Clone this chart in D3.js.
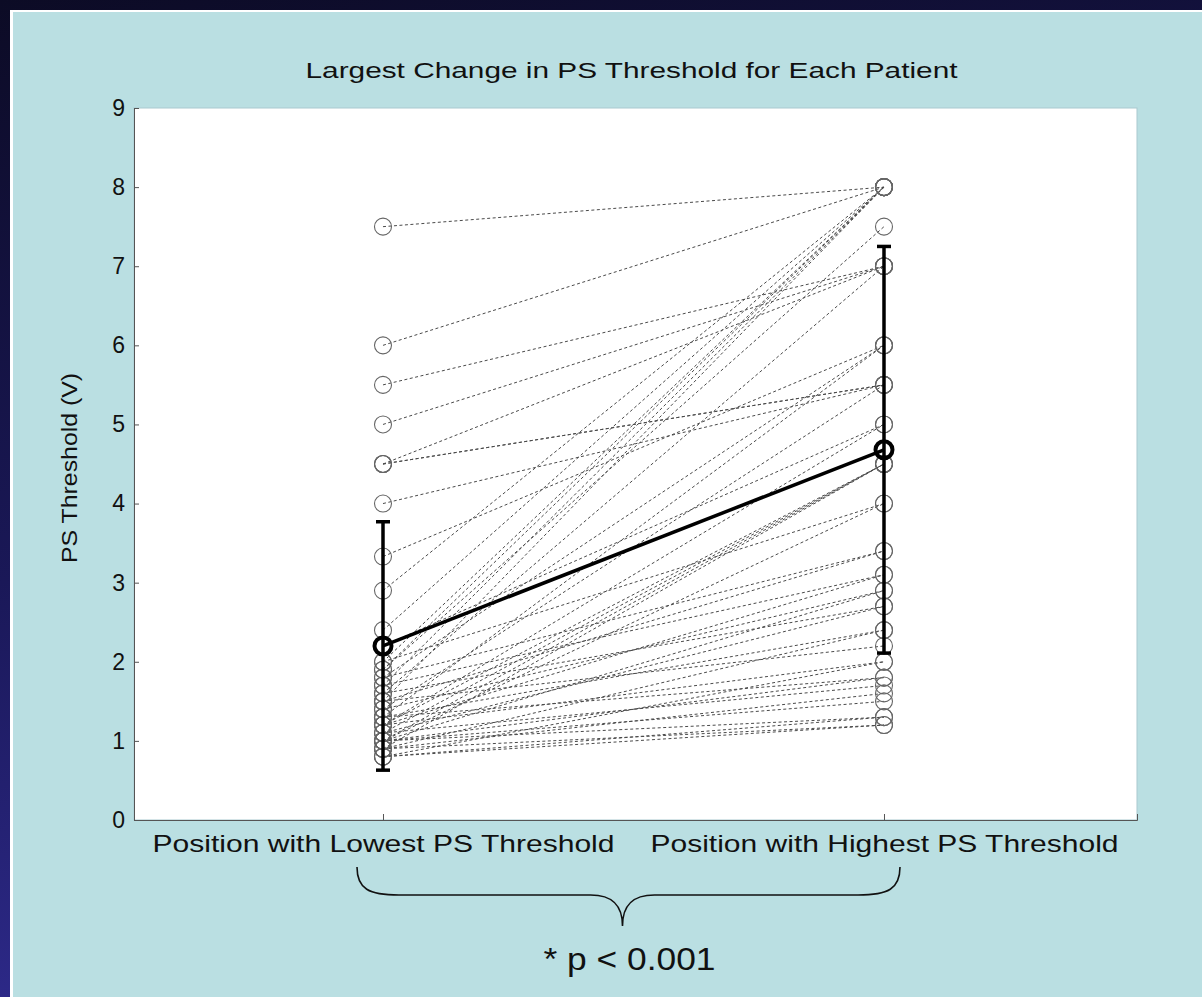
<!DOCTYPE html>
<html>
<head>
<meta charset="utf-8">
<script src="https://cdn.jsdelivr.net/npm/d3@7"></script>
<style>
  body { margin: 0; background: #0d0d2a; }
  svg { display: block; }
</style>
</head>
<body>
<script>
// categories on the x axis
var categories = ["Position with Lowest PS Threshold", "Position with Highest PS Threshold"];

// each patient: threshold at lowest position, threshold at highest position
var lowValues = [7.5, 6.0, 5.5, 5.0, 4.5, 4.5, 4.5, 4.0, 3.33, 2.9, 2.4, 2.2, 2.0, 1.9, 1.9, 1.8, 1.7,
  1.6, 1.5, 1.4, 1.3, 1.2, 1.2, 1.1, 1.0, 1.0, 0.9, 2.0, 1.8, 1.5, 1.7, 1.2, 1.4, 1.0, 1.6, 1.1,
  1.3, 0.9, 1.5, 1.2, 0.8, 1.3, 1.0, 1.1, 0.9, 1.0, 0.8, 1.0, 0.9, 0.8];
var highValues = [8.0, 8.0, 7.0, 7.0, 7.0, 5.5, 5.5, 5.5, 6.0, 8.0, 8.0, 5.0, 8.0, 7.5, 8.0, 6.0, 8.0,
  7.0, 8.0, 5.5, 6.0, 4.5, 5.0, 4.5, 4.5, 4.0, 4.5, 4.0, 3.4, 3.4, 3.1, 3.1, 2.9, 2.9, 2.7, 2.7,
  2.4, 2.4, 2.2, 2.0, 2.0, 1.8, 1.8, 1.7, 1.6, 1.5, 1.3, 1.3, 1.2, 1.2];

// group mean and standard deviation
var means = [2.2, 4.68];
var sds = [1.57, 2.57];

var yTicks = [0, 1, 2, 3, 4, 5, 6, 7, 8, 9];

var W = 1202, H = 997;
var margin = { top: 108, right: 65, bottom: 177, left: 134 };
var width = W - margin.left - margin.right,
  height = H - margin.top - margin.bottom;

var font = 'Liberation Sans, Arial, sans-serif';

var svg = d3.select('body').
append('svg').
attr('width', W).
attr('height', H);

// dark slide background
var defs = svg.append('defs');
var grad = defs.append('linearGradient').
attr('id', 'bg').
attr('x1', 0).attr('y1', 0).attr('x2', 0.25).attr('y2', 1);
grad.append('stop').attr('offset', '0%').attr('stop-color', '#0c0b25');
grad.append('stop').attr('offset', '55%').attr('stop-color', '#1a1858');
grad.append('stop').attr('offset', '100%').attr('stop-color', '#2f2b8e');

svg.append('rect').attr('width', W).attr('height', H).attr('fill', 'url(#bg)');
svg.append('rect').attr('x', 10).attr('y', 10).attr('width', W - 10).attr('height', H - 10).attr('fill', '#ffffff');
svg.append('rect').attr('x', 13).attr('y', 12).attr('width', W - 13).attr('height', H - 12).attr('fill', '#badfe2');

var g = svg.append('g').
attr('transform', 'translate(' + margin.left + ',' + margin.top + ')');

var x = d3.scaleLinear().domain([0.503, 2.505]).range([0, width]);
var y = d3.scaleLinear().domain([0, 9]).range([height, 0]);

// plot area
g.append('rect').
attr('width', width).
attr('height', height).
attr('fill', '#ffffff').
attr('stroke', '#a9c9cf').
attr('stroke-width', 1);

// y axis
var yAxis = d3.axisLeft(y).tickValues(yTicks).tickSize(-5).tickPadding(9).tickFormat(d3.format('d'));
var ya = g.append('g').attr('class', 'y axis').call(yAxis);
ya.select('.domain').attr('stroke', '#555');
ya.selectAll('.tick line').attr('stroke', '#555');
ya.selectAll('text').
attr('font-family', font).
attr('font-size', 23).
attr('fill', '#111');

// x axis
var xAxis = d3.axisBottom(x).tickValues([1, 2]).tickSize(-6).tickPadding(10).
tickFormat(function (d) {return categories[d - 1];});
var xa = g.append('g').attr('class', 'x axis').attr('transform', 'translate(0,' + height + ')').call(xAxis);
xa.select('.domain').attr('stroke', '#555');
xa.selectAll('.tick line').attr('stroke', '#555');
xa.selectAll('text').
attr('font-family', font).
attr('font-size', 24).
attr('fill', '#111').
attr('dy', '0.9em').
attr('textLength', function (d) {return d === 1 ? 462 : 468;}).
attr('lengthAdjust', 'spacingAndGlyphs');

// title
g.append('text').
attr('x', width / 2 - 4).
attr('y', -30).
attr('text-anchor', 'middle').
attr('font-family', font).
attr('font-size', 22).
attr('fill', '#111').
attr('textLength', 652).
attr('lengthAdjust', 'spacingAndGlyphs').
text('Largest Change in PS Threshold for Each Patient');

// y label
g.append('text').
attr('transform', 'translate(-57,' + y(4.45) + ') rotate(-90)').
attr('text-anchor', 'middle').
attr('font-family', font).
attr('font-size', 22).
attr('fill', '#111').
attr('textLength', 190).
attr('lengthAdjust', 'spacingAndGlyphs').
text('PS Threshold (V)');

var pairs = lowValues.map(function (v, i) {return { low: v, high: highValues[i] };});

// patient lines
g.selectAll('.patient').
data(pairs).
enter().
append('line').
attr('class', 'patient').
attr('x1', x(1)).
attr('x2', x(2)).
attr('y1', function (d) {return y(d.low);}).
attr('y2', function (d) {return y(d.high);}).
attr('stroke', '#4a4a4a').
attr('stroke-width', 1).
attr('stroke-dasharray', '3,2.5');

// patient markers
g.selectAll('.lowdot').
data(lowValues).
enter().
append('circle').
attr('class', 'lowdot').
attr('cx', x(1)).
attr('cy', function (d) {return y(d);}).
attr('r', 8.5).
attr('fill', 'none').
attr('stroke', '#666').
attr('stroke-width', 1.1);

g.selectAll('.highdot').
data(highValues).
enter().
append('circle').
attr('class', 'highdot').
attr('cx', x(2)).
attr('cy', function (d) {return y(d);}).
attr('r', 8.5).
attr('fill', 'none').
attr('stroke', '#666').
attr('stroke-width', 1.1);

// mean +/- sd
var summary = means.map(function (m, i) {return { pos: i + 1, mean: m, sd: sds[i] };});

g.selectAll('.errbar').
data(summary).
enter().
append('line').
attr('class', 'errbar').
attr('x1', function (d) {return x(d.pos);}).
attr('x2', function (d) {return x(d.pos);}).
attr('y1', function (d) {return y(d.mean - d.sd);}).
attr('y2', function (d) {return y(d.mean + d.sd);}).
attr('stroke', '#000').
attr('stroke-width', 3.5);

[-1, 1].forEach(function (s) {
  g.selectAll('.cap' + (s + 1)).
  data(summary).
  enter().
  append('line').
  attr('x1', function (d) {return x(d.pos) - 7;}).
  attr('x2', function (d) {return x(d.pos) + 7;}).
  attr('y1', function (d) {return y(d.mean + s * d.sd);}).
  attr('y2', function (d) {return y(d.mean + s * d.sd);}).
  attr('stroke', '#000').
  attr('stroke-width', 3.5);
});

g.append('line').
attr('x1', x(1)).
attr('y1', y(means[0])).
attr('x2', x(2)).
attr('y2', y(means[1])).
attr('stroke', '#000').
attr('stroke-width', 3.5);

g.selectAll('.meandot').
data(summary).
enter().
append('circle').
attr('class', 'meandot').
attr('cx', function (d) {return x(d.pos);}).
attr('cy', function (d) {return y(d.mean);}).
attr('r', 8.5).
attr('fill', 'none').
attr('stroke', '#000').
attr('stroke-width', 4);

// brace under the categories
var bx1 = x(1) - 26, bx2 = x(2) + 16, bmid = (bx1 + bx2) / 2 - 6;
var bTop = height + 47, bMid = height + 75, bTip = height + 106;
var brace = 'M' + bx1 + ',' + bTop +
' C' + bx1 + ',' + (bMid - 6) + ' ' + (bx1 + 12) + ',' + bMid + ' ' + (bx1 + 42) + ',' + bMid +
' L' + (bmid - 32) + ',' + bMid +
' C' + (bmid - 10) + ',' + bMid + ' ' + bmid + ',' + (bMid + 10) + ' ' + bmid + ',' + bTip +
' C' + bmid + ',' + (bMid + 10) + ' ' + (bmid + 10) + ',' + bMid + ' ' + (bmid + 32) + ',' + bMid +
' L' + (bx2 - 42) + ',' + bMid +
' C' + (bx2 - 12) + ',' + bMid + ' ' + bx2 + ',' + (bMid - 6) + ' ' + bx2 + ',' + bTop;
g.append('path').
attr('d', brace).
attr('fill', 'none').
attr('stroke', '#111').
attr('stroke-width', 1.6);

g.append('text').
attr('x', bmid + 7).
attr('y', height + 150).
attr('text-anchor', 'middle').
attr('font-family', font).
attr('font-size', 31).
attr('fill', '#111').
attr('textLength', 172).
attr('lengthAdjust', 'spacingAndGlyphs').
text('* p < 0.001');
</script>
</body>
</html>
